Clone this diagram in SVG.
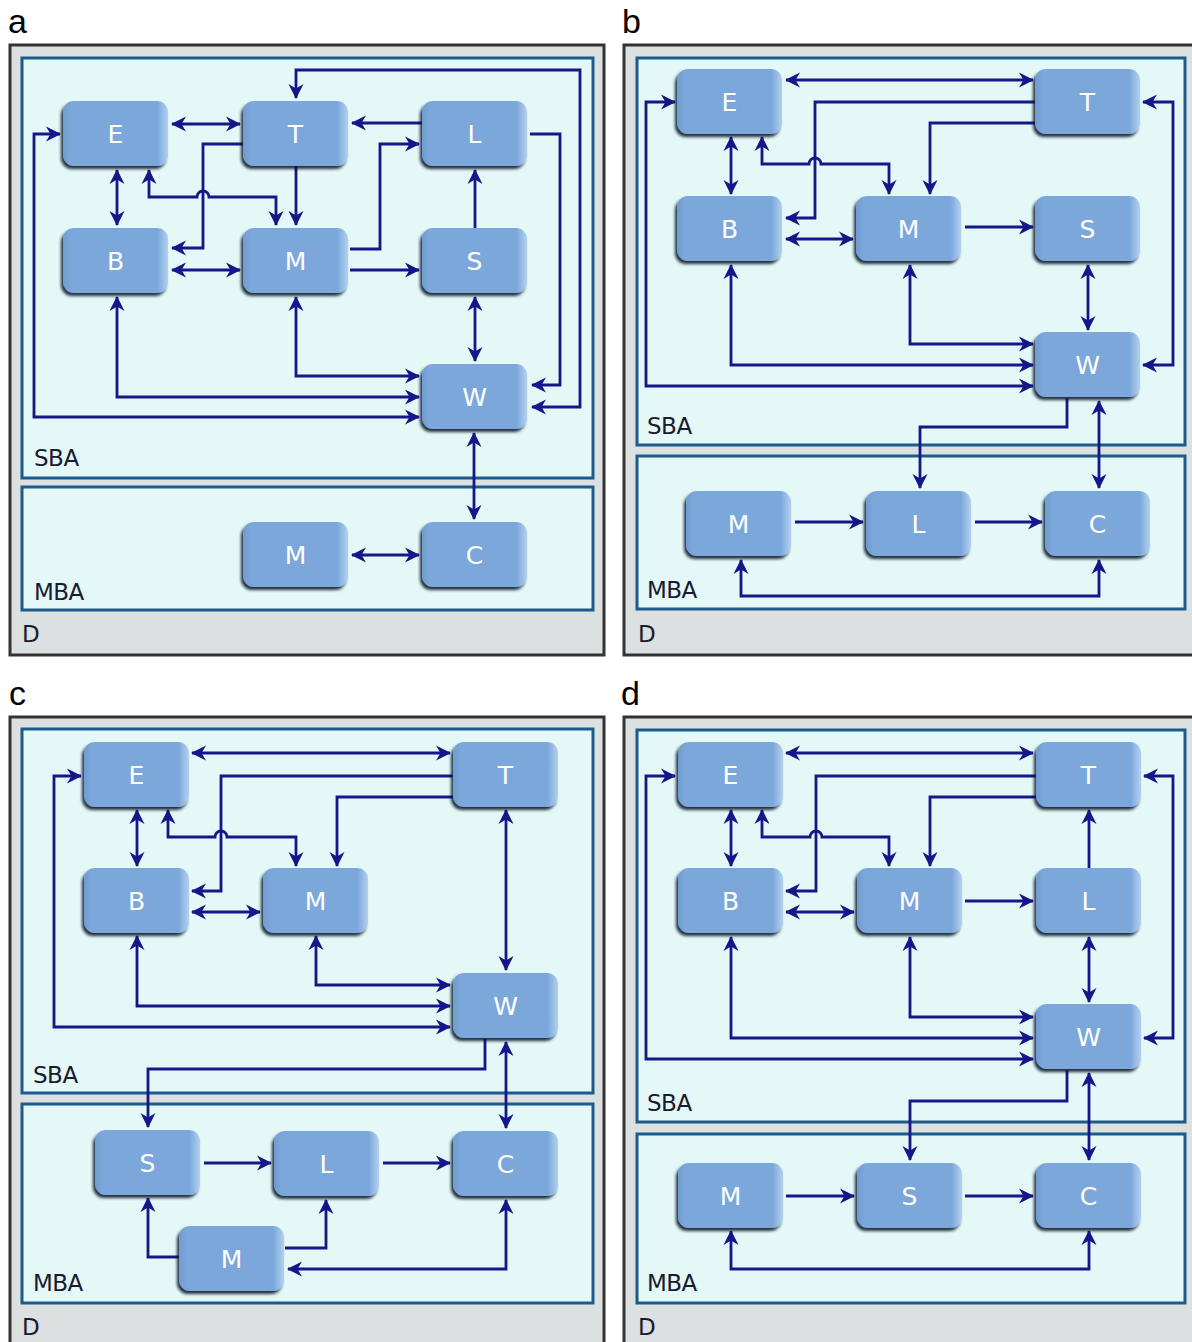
<svg xmlns="http://www.w3.org/2000/svg" width="1192" height="1342" viewBox="0 0 1192 1342">
  <style>
    .d { fill: #dde0e1; stroke: #333; stroke-width: 3; }
    .zone { fill: #e3f8f7; stroke: #1b5c8c; stroke-width: 3; }
    .lbl { font-family: "DejaVu Sans", Verdana, sans-serif; font-size: 23px; fill: #1a1a30; letter-spacing: -0.5px; }
    .pl { font-family: "Liberation Sans", Arial, sans-serif; font-size: 34px; fill: #000; }
    .n rect { fill: url(#nf); filter: url(#sh); }
    .n text { font-family: "DejaVu Sans", Verdana, sans-serif; font-size: 25px; fill: #fff; text-anchor: middle; transform: translateY(1px); }
    .c path { fill: none; stroke: #16168a; stroke-width: 2.8; marker-end: url(#ah); }
    .c path.both { marker-start: url(#ah); }
  </style>
  <defs>
    <linearGradient id="nf" x1="0" y1="0" x2="1" y2="0">
      <stop offset="0" stop-color="#6f9bd0"/>
      <stop offset="0.07" stop-color="#7ca7da"/>
      <stop offset="0.9" stop-color="#7ca7da"/>
      <stop offset="1" stop-color="#b4d0f0"/>
    </linearGradient>
    <filter id="sh" x="-10%" y="-10%" width="120%" height="130%">
      <feGaussianBlur in="SourceAlpha" stdDeviation="1.5"/>
      <feOffset dx="-2" dy="3" result="o"/>
      <feFlood flood-color="#0d1a2a" flood-opacity="0.9"/>
      <feComposite in2="o" operator="in"/>
      <feMerge><feMergeNode/><feMergeNode in="SourceGraphic"/></feMerge>
    </filter>
    <marker id="ah" viewBox="0 0 15 16" refX="14" refY="8" markerWidth="15" markerHeight="16" markerUnits="userSpaceOnUse" orient="auto-start-reverse">
      <path d="M0,0.5 L15,8 L0,15.5 L4.5,8 z" fill="#16168a"/>
    </marker>
  </defs>

  <rect width="1192" height="1342" fill="#fff"/>

  <!-- panel frames -->
  <g id="frames">
    <rect class="d" x="10" y="45" width="594" height="610"/>
    <rect class="zone" x="22" y="58" width="571" height="420"/>
    <rect class="zone" x="22" y="487" width="571" height="123"/>

    <rect class="d" x="624" y="45" width="580" height="610"/>
    <rect class="zone" x="637" y="58" width="548" height="387"/>
    <rect class="zone" x="637" y="456" width="548" height="153"/>

    <rect class="d" x="10" y="717" width="594" height="640"/>
    <rect class="zone" x="22" y="729" width="571" height="364"/>
    <rect class="zone" x="22" y="1104" width="571" height="199"/>

    <rect class="d" x="624" y="717" width="580" height="640"/>
    <rect class="zone" x="637" y="730" width="548" height="392"/>
    <rect class="zone" x="637" y="1134" width="548" height="169"/>
  </g>

  <g id="labels">
    <text class="pl" x="8" y="33">a</text>
    <text class="pl" x="622" y="33">b</text>
    <text class="pl" x="9" y="705">c</text>
    <text class="pl" x="621" y="705">d</text>

    <text class="lbl" x="34" y="466">SBA</text>
    <text class="lbl" x="34" y="600">MBA</text>
    <text class="lbl" x="22" y="642">D</text>

    <text class="lbl" x="647" y="434">SBA</text>
    <text class="lbl" x="647" y="598">MBA</text>
    <text class="lbl" x="638" y="642">D</text>

    <text class="lbl" x="33" y="1083">SBA</text>
    <text class="lbl" x="33" y="1291">MBA</text>
    <text class="lbl" x="22" y="1335">D</text>

    <text class="lbl" x="647" y="1111">SBA</text>
    <text class="lbl" x="647" y="1291">MBA</text>
    <text class="lbl" x="638" y="1335">D</text>
  </g>

  <!-- connectors -->
  <g id="connectors" class="c">
    <!-- a -->
    <path class="both" d="M172,124 H240"/>
    <path d="M243,144 H203 V248 H172"/>
    <path class="both" d="M149,170 V197 H197 a6,6 0 0 1 12,0 H276 V225"/>
    <path d="M296,166 V225"/>
    <path class="both" d="M117,170 V225"/>
    <path class="both" d="M172,270 H240"/>
    <path d="M422,123 H352"/>
    <path d="M350,249 H380 V144 H419"/>
    <path d="M350,270 H419"/>
    <path d="M475,228 V170"/>
    <path class="both" d="M475,297 V361"/>
    <path d="M530,134 H560 V385 H532"/>
    <path class="both" d="M296,98 V70 H580 V407 H532"/>
    <path class="both" d="M117,297 V397 H419"/>
    <path class="both" d="M296,297 V376 H419"/>
    <path class="both" d="M60,134 H34 V417 H419"/>
    <path class="both" d="M474,433 V519"/>
    <path class="both" d="M352,555 H419"/>

    <!-- b -->
    <path class="both" d="M786,80 H1033"/>
    <path d="M1035,102 H815 V218 H786"/>
    <path d="M1035,123 H930 V194"/>
    <path class="both" d="M762,137 V164 H809 a6,6 0 0 1 12,0 H889 V194"/>
    <path class="both" d="M731,137 V194"/>
    <path class="both" d="M786,239 H853"/>
    <path d="M965,227 H1033"/>
    <path class="both" d="M1088,265 V330"/>
    <path class="both" d="M675,102 H646 V386 H1033"/>
    <path class="both" d="M731,265 V365 H1033"/>
    <path class="both" d="M910,265 V344 H1033"/>
    <path class="both" d="M1143,102 H1173 V365 H1143"/>
    <path d="M1067,398 V427 H920 V488"/>
    <path class="both" d="M1099,401 V488"/>
    <path d="M795,522 H863"/>
    <path d="M975,522 H1042"/>
    <path class="both" d="M741,560 V596 H1099 V560"/>

    <!-- c -->
    <path class="both" d="M192,753 H450"/>
    <path d="M453,776 H221 V891 H192"/>
    <path d="M453,797 H337 V866"/>
    <path class="both" d="M168,810 V837 H215 a6,6 0 0 1 12,0 H296 V866"/>
    <path class="both" d="M137,810 V866"/>
    <path class="both" d="M192,912 H260"/>
    <path class="both" d="M506,810 V970"/>
    <path class="both" d="M316,936 V985 H450"/>
    <path class="both" d="M137,936 V1006 H450"/>
    <path class="both" d="M81,776 H54 V1027 H450"/>
    <path d="M485,1039 V1069 H148 V1127"/>
    <path class="both" d="M506,1042 V1128"/>
    <path d="M204,1163 H271"/>
    <path d="M383,1163 H450"/>
    <path d="M179,1257 H148 V1198"/>
    <path d="M285,1248 H326 V1200"/>
    <path class="both" d="M506,1200 V1269 H288"/>

    <!-- d -->
    <path class="both" d="M786,753 H1033"/>
    <path d="M1036,776 H816 V891 H786"/>
    <path d="M1036,797 H930 V866"/>
    <path class="both" d="M762,810 V837 H810 a6,6 0 0 1 12,0 H889 V866"/>
    <path class="both" d="M731,810 V866"/>
    <path class="both" d="M786,912 H854"/>
    <path d="M965,901 H1033"/>
    <path d="M1089,868 V810"/>
    <path class="both" d="M1089,937 V1002"/>
    <path class="both" d="M1144,776 H1173 V1038 H1144"/>
    <path class="both" d="M910,937 V1017 H1033"/>
    <path class="both" d="M731,937 V1038 H1033"/>
    <path class="both" d="M675,776 H646 V1059 H1033"/>
    <path d="M1067,1070 V1101 H910 V1160"/>
    <path class="both" d="M1089,1073 V1160"/>
    <path d="M786,1196 H854"/>
    <path d="M965,1196 H1033"/>
    <path class="both" d="M731,1231 V1269 H1089 V1231"/>
  </g>

  <!-- nodes: panel a -->
  <g id="a-E" class="n"><rect x="63" y="101" width="105" height="65" rx="11"/><text x="115.5" y="141.5">E</text></g>
  <g id="a-T" class="n"><rect x="243" y="101" width="105" height="65" rx="11"/><text x="295.5" y="141.5">T</text></g>
  <g id="a-L" class="n"><rect x="422" y="101" width="105" height="65" rx="11"/><text x="474.5" y="141.5">L</text></g>
  <g id="a-B" class="n"><rect x="63" y="228" width="105" height="65" rx="11"/><text x="115.5" y="268.5">B</text></g>
  <g id="a-M" class="n"><rect x="243" y="228" width="105" height="65" rx="11"/><text x="295.5" y="268.5">M</text></g>
  <g id="a-S" class="n"><rect x="422" y="228" width="105" height="65" rx="11"/><text x="474.5" y="268.5">S</text></g>
  <g id="a-W" class="n"><rect x="422" y="364" width="105" height="65" rx="11"/><text x="474.5" y="404.5">W</text></g>
  <g id="a-M2" class="n"><rect x="243" y="522" width="105" height="65" rx="11"/><text x="295.5" y="562.5">M</text></g>
  <g id="a-C" class="n"><rect x="422" y="522" width="105" height="65" rx="11"/><text x="474.5" y="562.5">C</text></g>

  <!-- nodes: panel b -->
  <g id="b-E" class="n"><rect x="677" y="69" width="105" height="65" rx="11"/><text x="729.5" y="109.5">E</text></g>
  <g id="b-T" class="n"><rect x="1035" y="69" width="105" height="65" rx="11"/><text x="1087.5" y="109.5">T</text></g>
  <g id="b-B" class="n"><rect x="677" y="196" width="105" height="65" rx="11"/><text x="729.5" y="236.5">B</text></g>
  <g id="b-M" class="n"><rect x="856" y="196" width="105" height="65" rx="11"/><text x="908.5" y="236.5">M</text></g>
  <g id="b-S" class="n"><rect x="1035" y="196" width="105" height="65" rx="11"/><text x="1087.5" y="236.5">S</text></g>
  <g id="b-W" class="n"><rect x="1035" y="332" width="105" height="65" rx="11"/><text x="1087.5" y="372.5">W</text></g>
  <g id="b-M2" class="n"><rect x="686" y="491" width="105" height="65" rx="11"/><text x="738.5" y="531.5">M</text></g>
  <g id="b-L" class="n"><rect x="866" y="491" width="105" height="65" rx="11"/><text x="918.5" y="531.5">L</text></g>
  <g id="b-C" class="n"><rect x="1045" y="491" width="105" height="65" rx="11"/><text x="1097.5" y="531.5">C</text></g>

  <!-- nodes: panel c -->
  <g id="c-E" class="n"><rect x="84" y="742" width="105" height="65" rx="11"/><text x="136.5" y="782.5">E</text></g>
  <g id="c-T" class="n"><rect x="453" y="742" width="105" height="65" rx="11"/><text x="505.5" y="782.5">T</text></g>
  <g id="c-B" class="n"><rect x="84" y="868" width="105" height="65" rx="11"/><text x="136.5" y="908.5">B</text></g>
  <g id="c-M" class="n"><rect x="263" y="868" width="105" height="65" rx="11"/><text x="315.5" y="908.5">M</text></g>
  <g id="c-W" class="n"><rect x="453" y="973" width="105" height="65" rx="11"/><text x="505.5" y="1013.5">W</text></g>
  <g id="c-S" class="n"><rect x="95" y="1130" width="105" height="65" rx="11"/><text x="147.5" y="1170.5">S</text></g>
  <g id="c-L" class="n"><rect x="274" y="1131" width="105" height="65" rx="11"/><text x="326.5" y="1171.5">L</text></g>
  <g id="c-C" class="n"><rect x="453" y="1131" width="105" height="65" rx="11"/><text x="505.5" y="1171.5">C</text></g>
  <g id="c-M2" class="n"><rect x="179" y="1226" width="105" height="65" rx="11"/><text x="231.5" y="1266.5">M</text></g>

  <!-- nodes: panel d -->
  <g id="d-E" class="n"><rect x="678" y="742" width="105" height="65" rx="11"/><text x="730.5" y="782.5">E</text></g>
  <g id="d-T" class="n"><rect x="1036" y="742" width="105" height="65" rx="11"/><text x="1088.5" y="782.5">T</text></g>
  <g id="d-B" class="n"><rect x="678" y="868" width="105" height="65" rx="11"/><text x="730.5" y="908.5">B</text></g>
  <g id="d-M" class="n"><rect x="857" y="868" width="105" height="65" rx="11"/><text x="909.5" y="908.5">M</text></g>
  <g id="d-L" class="n"><rect x="1036" y="868" width="105" height="65" rx="11"/><text x="1088.5" y="908.5">L</text></g>
  <g id="d-W" class="n"><rect x="1036" y="1004" width="105" height="65" rx="11"/><text x="1088.5" y="1044.5">W</text></g>
  <g id="d-M2" class="n"><rect x="678" y="1163" width="105" height="65" rx="11"/><text x="730.5" y="1203.5">M</text></g>
  <g id="d-S" class="n"><rect x="857" y="1163" width="105" height="65" rx="11"/><text x="909.5" y="1203.5">S</text></g>
  <g id="d-C" class="n"><rect x="1036" y="1163" width="105" height="65" rx="11"/><text x="1088.5" y="1203.5">C</text></g>
</svg>
